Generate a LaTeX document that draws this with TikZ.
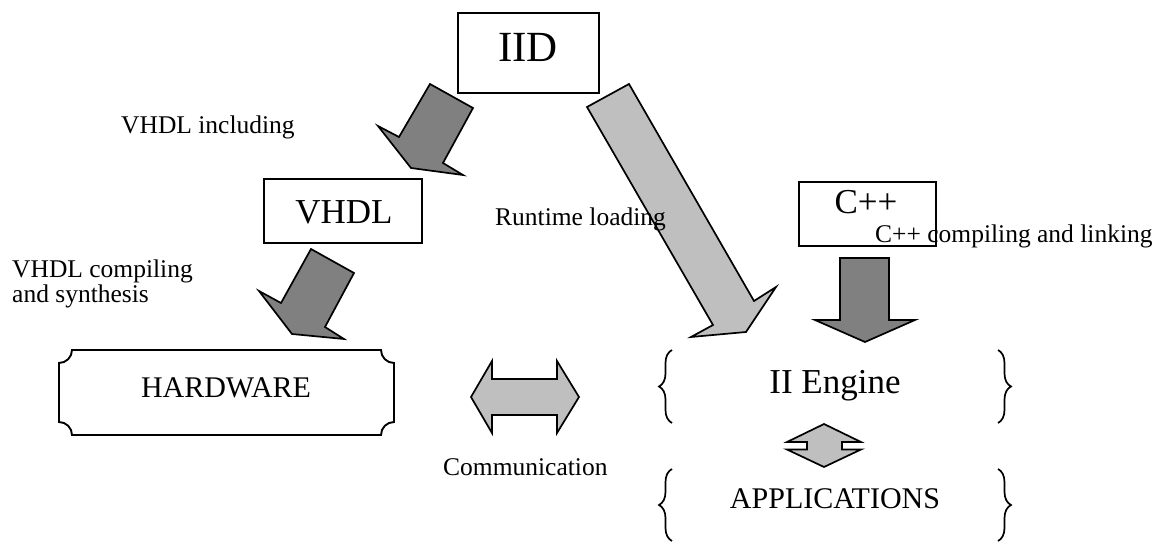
\documentclass[tikz,border=0pt]{standalone}
\usepackage{fontspec}
\setmainfont{Liberation Serif}
\usetikzlibrary{decorations.pathreplacing}
\tikzset{
  box/.style={draw, line width=1.9pt, inner sep=0pt},
  lbl/.style={anchor=base west, inner sep=0pt, font=\fontsize{25.5}{28}\selectfont},
  big/.style={anchor=base, inner sep=0pt},
  darkarrow/.style={draw, line width=1.7pt, line join=miter, fill=black!50},
  lightarrow/.style={draw, line width=1.7pt, line join=miter, fill=black!25},
  brc/.style={draw, line width=1.7pt, decorate, decoration={brace, amplitude=13pt}},
}
\begin{document}
\begin{tikzpicture}[x=1pt, y=-1pt]
  \useasboundingbox (0,0) rectangle (1163,543);

  % boxes
  \node[box, minimum width=141pt, minimum height=80pt] (iid) at (528.5,53) {};
  \node[big, font=\fontsize{43}{50}\selectfont] (iidtxt) at (528,62) {IID};

  \node[box, minimum width=158pt, minimum height=64pt] (vhdl) at (343,211) {};
  \node[big, font=\fontsize{35}{40}\selectfont] (vhdltxt) at (344,223) {VHDL};

  \node[box, minimum width=137pt, minimum height=64pt] (cpp) at (867.5,214) {};
  \node[big, font=\fontsize{35}{40}\selectfont] (cpptxt) at (866,213) {C++};

  % hardware plaque with concave corners
  \draw[line width=1.9pt] (72,350) -- (381,350)
    arc[start angle=180, end angle=90, radius=13] -- (394,422)
    arc[start angle=270, end angle=180, radius=13] -- (72,435)
    arc[start angle=0, end angle=-90, radius=13] -- (59,363)
    arc[start angle=90, end angle=0, radius=13] -- cycle;
  \node[big, font=\fontsize{30}{36}\selectfont] (hw) at (226,397) {HARDWARE};

  % engine and applications with braces
  \node[big, font=\fontsize{35}{40}\selectfont] (engine) at (835,393) {II Engine};
  \draw[brc] (672,423) -- (672,350);
  \draw[brc] (998,350) -- (998,423);

  \node[big, font=\fontsize{30}{36}\selectfont] (apps) at (835,508) {APPLICATIONS};
  \draw[brc] (672,541) -- (672,469);
  \draw[brc] (998,469) -- (998,541);

  % block arrows
  \draw[darkarrow] (430,84) -- (473,108) -- (443,163) -- (463,175) -- (411,168)
    -- (378,126) -- (399,137) -- cycle;
  \draw[darkarrow] (311,249) -- (354,273) -- (325,327) -- (344,339) -- (292,334)
    -- (259,291) -- (281,303) -- cycle;
  \draw[lightarrow] (587,107) -- (629,84) -- (754,301) -- (776,287) -- (746,332)
    -- (691,337) -- (713,325) -- cycle;
  \draw[darkarrow] (840,258) -- (889,258) -- (889,320) -- (915,320) -- (865,342)
    -- (815,320) -- (840,320) -- cycle;
  \draw[lightarrow] (471,397) -- (492,361) -- (492,379) -- (557,379) -- (557,361)
    -- (579,397) -- (557,433) -- (557,415) -- (492,415) -- (492,433) -- cycle;

  % short double arrow between engine and applications, slotted tips
  \draw[lightarrow] (824,424) -- (861,442) -- (842,442) -- (842,449.5)
    -- (861,449.5) -- (824,467) -- (787,449.5) -- (807,449.5) -- (807,442)
    -- (787,442) -- cycle;

  % labels
  \node[lbl] (l1) at (121,133) {VHDL including};
  \node[lbl] (l2) at (495,225) {Runtime loading};
  \node[lbl] (l3) at (12,277) {VHDL compiling};
  \node[lbl] (l4) at (12,302) {and synthesis};
  \node[lbl] (l5) at (875,242) {C++ compiling and linking};
  \node[lbl] (l6) at (443,475) {Communication};
\end{tikzpicture}
\end{document}
